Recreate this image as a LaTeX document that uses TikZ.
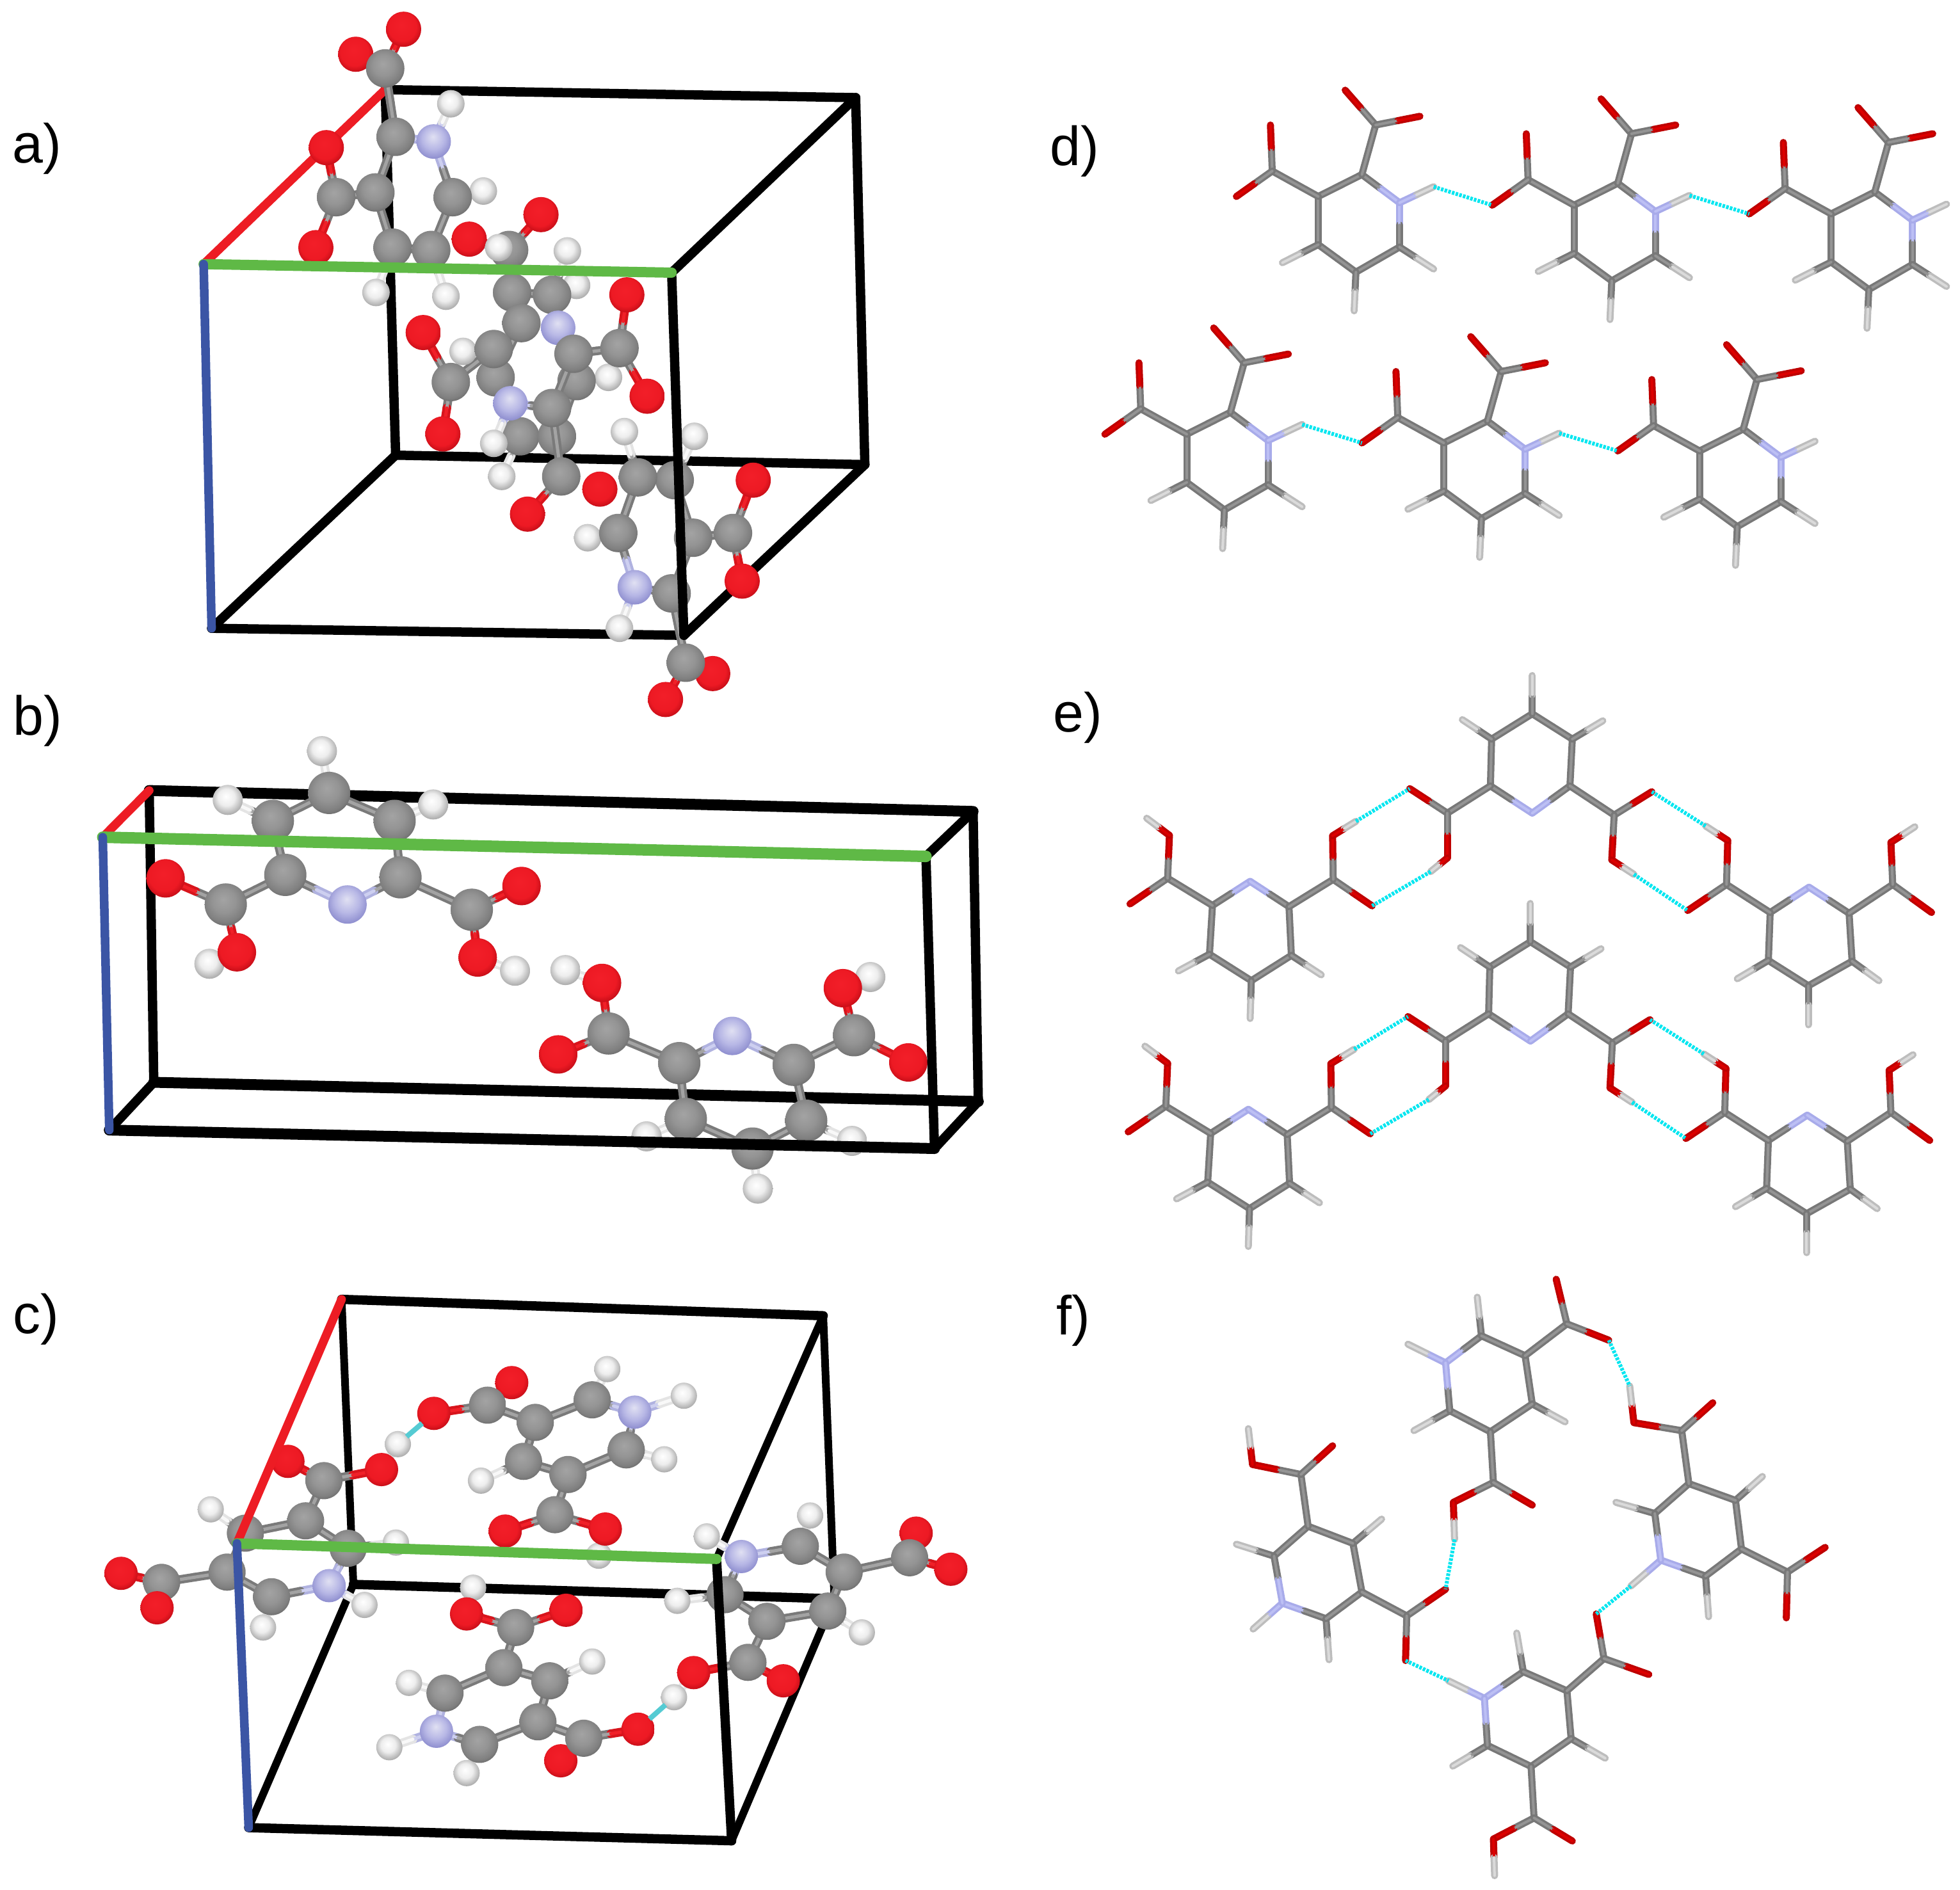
\documentclass[tikz,border=0pt]{standalone}
\usepackage{fontspec}
\setmainfont{Liberation Sans}
\usetikzlibrary{calc}
\pgfdeclareradialshading{ballC}{\pgfpoint{-3bp}{6bp}}{rgb(0bp)=(.64,.64,.64); rgb(14bp)=(.58,.58,.58); rgb(24bp)=(.50,.50,.50); rgb(34bp)=(.34,.34,.34); rgb(50bp)=(.34,.34,.34)}
\pgfdeclareradialshading{ballO}{\pgfpoint{-3bp}{6bp}}{rgb(0bp)=(.95,.12,.16); rgb(20bp)=(.93,.10,.14); rgb(32bp)=(.70,.03,.07); rgb(50bp)=(.70,.03,.07)}
\pgfdeclareradialshading{ballN}{\pgfpoint{-1bp}{7bp}}{rgb(0bp)=(.88,.88,.95); rgb(16bp)=(.72,.72,.90); rgb(32bp)=(.50,.50,.78); rgb(50bp)=(.50,.50,.78)}
\pgfdeclareradialshading{ballH}{\pgfpoint{-3bp}{6bp}}{rgb(0bp)=(1,1,1); rgb(14bp)=(.93,.93,.93); rgb(30bp)=(.62,.62,.62); rgb(50bp)=(.62,.62,.62)}
\definecolor{axred}{HTML}{ED1C24}
\definecolor{axgreen}{HTML}{5FB946}
\definecolor{axblue}{HTML}{3B55A5}
\definecolor{hbcol}{HTML}{00E6F0}
\definecolor{hbball}{HTML}{55CBD3}
\tikzset{
 celledge/.style={line width=0.145cm,black,line cap=round},
 axisred/.style={line width=0.135cm,axred,line cap=round},
 axisgreen/.style={line width=0.16cm,axgreen,line cap=round},
 axisblue/.style={line width=0.135cm,axblue,line cap=round},
 bondline/.style={line width=\bw,line cap=round},
 bondhi/.style={line width=\bhw,line cap=round},
 hbond/.style={line width=0.06cm,hbcol,dash pattern=on 0.04cm off 0.02cm},
 hbondball/.style={line width=0.08cm,hbball},
 panellabel/.style={anchor=base west,inner sep=0pt,font=\fontsize{24.5}{26}\selectfont}
}
\newcommand\stickcolours{%
 \colorlet{bC}{black!53}\colorlet{hC}{black!42}%
 \definecolor{bO}{HTML}{BE0000}\definecolor{hO}{HTML}{DC0000}%
 \definecolor{bN}{HTML}{A8ABEA}\definecolor{hN}{HTML}{BCBFF4}%
 \definecolor{bH}{HTML}{BDBDBD}\definecolor{hH}{HTML}{DADADA}%
 \def\bw{0.11cm}\def\bhw{0.04cm}}
\newcommand\ballcolours{%
 \colorlet{bC}{black!52}\colorlet{hC}{black!36}%
 \definecolor{bO}{HTML}{D8141C}\definecolor{hO}{HTML}{F02028}%
 \definecolor{bN}{HTML}{B0B2E0}\definecolor{hN}{HTML}{CDCFF0}%
 \definecolor{bH}{HTML}{E4E4E4}\definecolor{hH}{HTML}{F8F8F8}%
 \def\bw{0.135cm}\def\bhw{0.05cm}}
\newcommand\defatoms[2]{\foreach \n/\x/\y/\t in {#2}{%
  \coordinate (#1\n) at (\x,\y);%
  \expandafter\xdef\csname ty#1\n\endcsname{\t}}}
\newcommand\drawbonds[2]{\foreach \pa/\pb in {#2}{%
  \edef\ca{\csname ty#1\pa\endcsname}\edef\cb{\csname ty#1\pb\endcsname}%
  \coordinate (mid) at ($(#1\pa)!.5!(#1\pb)$);%
  \draw[bondline,color=b\ca] (#1\pa) -- (mid);%
  \draw[bondline,color=b\cb] (mid) -- (#1\pb);%
  \draw[bondhi,color=h\ca] (#1\pa) -- (mid);%
  \draw[bondhi,color=h\cb] (mid) -- (#1\pb);}}
\newcommand\molstick[3]{\defatoms{#1}{#2}\drawbonds{#1}{#3}}
\newcommand\molball[3]{\defatoms{#1}{#2}\drawbonds{#1}{#3}%
  \foreach \n/\x/\y/\t in {#2}{%
    \edef\myr{\csname rad\t\endcsname}%
    \shade[shading=ball\t] (#1\n) circle [radius=\myr];}}
\newcommand\dmol[1]{\molstick{#1}{C1/492/380/C,C2/565/317/C,N/628/398/N,C3/628/525/C,C4/555/597/C,C5/492/518/C,
 CA/415/307/C,OA/412/175/O,OB/355/380/O,CB/588/175/C,OC/537/75/O,OD/662/150/O,
 HN/685/352/H,H5/432/570/H,H3/685/588/H,H4/552/708/H}
 {C1/C2,C2/N,N/C3,C3/C4,C4/C5,C5/C1,C1/CA,CA/OA,CA/OB,C2/CB,CB/OC,CB/OD,N/HN,C5/H5,C3/H3,C4/H4}}
\newcommand\emolM[1]{\molstick{#1}{N/850/395/N,CL/780/325/C,CR/913/325/C,DL/782/205/C,DR/917/205/C,E/850/140/C,
 HE/850/42/H,HL/733/155/H,HR/968/158/H,AL/708/395/C,OL/645/332/O,PL/708/510/O,QL/680/545/H,
 AR/987/400/C,OR/1050/340/O,PR/983/515/O,QR/1020/552/H}
 {N/CL,N/CR,CL/DL,CR/DR,DL/E,DR/E,E/HE,DL/HL,DR/HR,CL/AL,AL/OL,AL/PL,PL/QL,CR/AR,AR/OR,AR/PR,PR/QR}}
\newcommand\emolL[1]{\molstick{#1}{N/378/570/N,CL/315/632/C,CR/443/635/C,DL/310/757/C,DR/447/760/C,E/380/825/C,
 HE/378/922/H,HL/258/800/H,HR/497/810/H,AL/240/562/C,OL/177/628/O,PL/243/452/O,QL/205/408/H,
 AR/517/565/C,OR/582/633/O,PR/516/453/O,QR/555/416/H}
 {N/CL,N/CR,CL/DL,CR/DR,DL/E,DR/E,E/HE,DL/HL,DR/HR,CL/AL,AL/OL,AL/PL,PL/QL,CR/AR,AR/OR,AR/PR,PR/QR}}
\newcommand\emolR[1]{\molstick{#1}{N/1313/585/N,CL/1248/650/C,CR/1380/652/C,DL/1245/773/C,DR/1385/775/C,E/1312/838/C,
 HE/1312/938/H,HL/1193/820/H,HR/1430/825/H,AL/1175/578/C,OL/1110/645/O,PL/1177/465/O,QL/1140/428/H,
 AR/1453/578/C,OR/1518/650/O,PR/1450/470/O,QR/1490/430/H}
 {N/CL,N/CR,CL/DL,CR/DR,DL/E,DR/E,E/HE,DL/HL,DR/HR,CL/AL,AL/OL,AL/PL,PL/QL,CR/AR,AR/OR,AR/PR,PR/QR}}
\begin{document}
\begin{tikzpicture}
\useasboundingbox (0cm,0cm) rectangle (30.62cm,-29.52cm);
\fill[white] (0cm,0cm) rectangle (30.62cm,-29.52cm);
\node[panellabel] (labA) at (0.19cm,-2.54cm) {a)};
\node[panellabel] (labB) at (0.20cm,-11.48cm) {b)};
\node[panellabel] (labC) at (0.20cm,-20.83cm) {c)};
\node[panellabel] (labD) at (16.40cm,-2.58cm) {d)};
\node[panellabel] (labE) at (16.45cm,-11.43cm) {e)};
\node[panellabel] (labF) at (16.50cm,-20.85cm) {f)};

%%%%%%%%%%%% panel a
\begin{scope}[x=0.00958cm,y=-0.00737cm]
\ballcolours
\def\radC{0.30cm}\def\radO{0.275cm}\def\radN{0.27cm}\def\radH{0.215cm}
\coordinate (aO) at (332,560);\coordinate (aR) at (628,190);\coordinate (aG) at (1095,578);\coordinate (aB) at (345,1332);
\coordinate (aRG) at (1395,207);\coordinate (aRB) at (645,965);\coordinate (aRGB) at (1410,985);\coordinate (aGB) at (1115,1347);
\draw[celledge] (aR) -- (aRG);
\draw[celledge] (aRG) -- (aG);
\draw[celledge] (aRG) -- (aRGB);
\draw[celledge] (aR) -- (aRB);
\draw[celledge] (aRB) -- (aRGB);
\draw[celledge] (aRB) -- (aB);
\draw[celledge] (aGB) -- (aRGB);
\draw[celledge] (aB) -- (aGB);
\draw[axisred] (aO) -- (aR);
\molball{p}{O1/580/115/O,O2/658/62/O,C1/628/145/C,H1/735/220/H,N/707/300/N,C2/645/290/C,H2/788/405/H,C4/738/418/C,O4/515/525/O,C5/548/418/C,O3/532/313/O,C3/612/408/C,H3/613/620/H,H4/727/628/H,C7/703/530/C,C6/640/525/C}
 {C1/O1,C1/O2,C1/C2,C2/N,N/H1,N/C4,C2/C3,C3/C5,C5/O3,C5/O4,C3/C6,C4/C7,C6/C7,C4/H2,C6/H3,C7/H4}
\molball{q}{O1/765/507/O,O2/882/455/O,C1/830/530/C,H1/925/532/H,H2/940/605/H,C2/835/620/C,C3/900/625/C,C4/850/685/C,N/910/695/N,H3/992/800/H,C5/808/800/C,C6/940/808/C,C7/848/925/C,C8/908/925/C,H4/818/1010/H,O3/978/1037/O,H5/813/525/H}
 {C1/O1,C1/O2,C1/C2,C2/C3,C2/C4,C3/N,C3/H1,C3/H2,C4/C5,C6/H3,C5/C7,C6/C8,C7/C8,C7/H4}
\molball{s}{O1/690/705/O,O2/722/920/O,C1/735/810/C,H1/755/745/H,C2/805/740/C,H2/805/940/H,N/832/855/N,C4/935/750/C,C5/1010/738/C,O3/1022/625/O,O4/1055/840/O,C3/900/865/C,O5/860/1090/O,C6/915/1010/C}
 {C1/O1,C1/O2,C1/C2,C2/H1,N/H2,N/C3,C3/C4,C4/C5,C5/O3,C5/O4,C3/C6,C6/O5}
\molball{t}{H1/1018/915/H,H2/1132/925/H,O1/1228/1018/O,O2/1210/1232/O,C6/1195/1130/C,C2/1100/1018/C,C1/1040/1012/C,H3/958/1140/H,C3/1008/1130/C,C5/1130/1140/C,H4/1010/1332/H,C4/1095/1258/C,N/1035/1245/N,O3/1162/1428/O,C7/1118/1405/C,O4/1085/1483/O}
 {C1/H1,C2/H2,C1/C2,C1/C3,C3/H3,C3/N,N/H4,N/C4,C4/C5,C2/C5,C5/C6,C6/O1,C6/O2,C4/C7,C7/O3,C7/O4}
\draw[celledge] (aG) -- (aGB);
\draw[axisgreen] (aO) -- (aG);
\draw[axisblue] (aO) -- (aB);
\end{scope}

%%%%%%%%%%%% panel b
\begin{scope}[x=0.010217cm,y=-0.00545cm,shift={(0cm,-11cm)}]
\ballcolours
\def\radC{0.33cm}\def\radO{0.30cm}\def\radN{0.30cm}\def\radH{0.235cm}
\coordinate (bO) at (157,382);\coordinate (bR) at (228,248);\coordinate (bG) at (1415,437);\coordinate (bB) at (167,1222);
\coordinate (bRG) at (1487,308);\coordinate (bRB) at (235,1085);\coordinate (bRGB) at (1495,1140);\coordinate (bGB) at (1428,1275);
\draw[celledge,line width=0.17cm] (bR) -- (bRG);
\draw[celledge] (bRG) -- (bG);
\draw[celledge] (bRG) -- (bRGB);
\draw[celledge] (bR) -- (bRB);
\draw[celledge,line width=0.17cm] (bRB) -- (bRGB);
\draw[celledge] (bRB) -- (bB);
\draw[celledge] (bRGB) -- (bGB);
\draw[axisred] (bO) -- (bR);
\molball{u}{H1/492/135/H,H2/348/275/H,H3/662/288/H,C1/503/255/C,C2/417/335/C,C3/603/335/C,C4/436/490/C,C5/612/497/C,O1/253/500/O,H4/320/745/H,O2/362/712/O,C6/345/575/C,N/531/575/N,O3/797/522/O,H5/787/765/H,O4/730/727/O,C7/721/590/C}
 {C1/H1,C1/C2,C1/C3,C2/H2,C3/H3,C2/C4,C3/C5,C4/N,C5/N,C4/C6,C6/O1,C6/O2,O2/H4,C5/C7,C7/O3,C7/O4,O4/H5}
\molball{v}{H1/864/763/H,O1/920/800/O,O2/853/1005/O,C1/930/945/C,H2/1330/783/H,O3/1288/815/O,O4/1388/1028/O,C2/1305/950/C,N/1119/952/N,C3/1038/1030/C,C4/1213/1035/C,H3/988/1240/H,H4/1302/1253/H,H5/1158/1390/H,C7/1150/1275/C,C5/1048/1190/C,C6/1232/1195/C}
 {C1/O1,O1/H1,C1/O2,C1/C3,C3/N,N/C4,C4/C2,C2/O3,O3/H2,C2/O4,C3/C5,C4/C6,C5/C7,C6/C7,C7/H5,C5/H3,C6/H4}
\draw[celledge] (bG) -- (bGB);
\draw[celledge,line width=0.17cm] (bB) -- (bGB);
\draw[axisgreen,line width=0.18cm] (bO) -- (bG);
\draw[axisblue] (bO) -- (bB);
\end{scope}

%%%%%%%%%%%% panel c
\begin{scope}[x=0.010217cm,y=-0.00641cm,shift={(0cm,-19.5cm)}]
\ballcolours
\def\radC{0.29cm}\def\radO{0.26cm}\def\radN{0.26cm}\def\radH{0.205cm}
\coordinate (cO) at (362,720);\coordinate (cR) at (522,125);\coordinate (cG) at (1095,758);\coordinate (cB) at (380,1413);
\coordinate (cRG) at (1258,165);\coordinate (cRB) at (540,820);\coordinate (cRGB) at (1275,855);\coordinate (cGB) at (1118,1445);
\draw[celledge] (cR) -- (cRG);
\draw[celledge,line width=0.12cm] (cRG) -- (cG);
\draw[celledge,line width=0.12cm] (cRG) -- (cRGB);
\draw[celledge,line width=0.12cm] (cR) -- (cRB);
\draw[celledge] (cRB) -- (cRGB);
\draw[celledge,line width=0.12cm] (cRB) -- (cB);
\draw[celledge,line width=0.12cm] (cRGB) -- (cGB);
\draw[celledge] (cB) -- (cGB);
\molball{w}{O1/782/328/O,C1/745/383/C,O2/663/403/O,H1/928/295/H,C2/905/370/C,H2/1045/360/H,N/970/400/N,C3/818/425/C,H3/735/567/H,C4/800/520/C,H4/1015/515/H,C5/957/492/C,C6/868/552/C,H5/915/750/H,O3/772/690/O,O4/925/685/O,C7/848/650/C}
 {C1/O1,C1/O2,C1/C3,C3/C2,C2/H1,C2/N,N/H2,N/C5,C5/H4,C5/C6,C3/C4,C4/H3,C4/C6,C6/C7,C7/O3,C7/O4,O4/H5}
\molball{x}{O1/440/520/O,H1/608/478/H,O2/583/540/O,C1/495/567/C,C2/467/665/C,H2/322/637/H,C3/375/695/C,H3/605/718/H,C4/532/732/C,O3/185/793/O,C5/247/815/C,O4/240/877/O,C6/347/790/C,H4/402/925/H,C7/415/850/C,H5/557/870/H,N/503/823/N}
 {C1/O1,C1/O2,O2/H1,C1/C2,C2/C3,C2/C4,C3/H2,C4/H3,C3/C6,C4/N,N/H5,N/C7,C7/H4,C7/C6,C6/C5,C5/O3,C5/O4}
\draw[hbondball,shorten <=0.24cm,shorten >=0.18cm] (wO2) -- (xH1);
\molball{y}{H1/723/828/H,O1/713/892/O,O2/865/883/O,C1/788/925/C,H2/905/1008/H,C2/840/1055/C,C3/770/1023/C,H3/625/1060/H,C4/680/1085/C,H4/595/1217/H,N/667/1178/N,H5/713/1280/H,C5/733/1210/C,C6/822/1155/C,O3/857/1250/O,C7/892/1195/C,O4/975/1173/O}
 {C1/O1,O1/H1,C1/O2,C1/C3,C3/C2,C2/H2,C3/C4,C4/H3,C4/N,N/H4,N/C5,C5/H5,C5/C6,C2/C6,C6/C7,C7/O3,C7/O4}
\molball{z}{H1/1080/703/H,H2/1238/652/H,N/1133/752/N,C1/1223/727/C,O1/1400/695/O,O2/1453/783/O,C3/1390/755/C,C2/1290/790/C,H3/1035/860/H,C4/1108/845/C,H4/1317/937/H,C6/1265/885/C,C5/1172/910/C,H5/1030/1095/H,O3/1060/1035/O,C7/1143/1010/C,O4/1197/1055/O}
 {N/H1,N/C1,C1/H2,C1/C2,C2/C3,C3/O1,C3/O2,N/C4,C4/H3,C4/C5,C5/C6,C6/C2,C6/H4,C5/C7,C7/O3,O3/H5,C7/O4}
\draw[hbondball,shorten <=0.24cm,shorten >=0.18cm] (yO4) -- (zH5);
\draw[celledge] (cG) -- (cGB);
\draw[axisred] (cO) -- (cR);
\draw[axisgreen] (cO) -- (cG);
\draw[axisblue] (cO) -- (cB);
\end{scope}

%%%%%%%%%%%% panel d
\begin{scope}[x=0.009336cm,y=-0.00545cm,shift={(16cm,-1cm)}]
\stickcolours
\dmol{d1}
\begin{scope}[shift={(428,25)}]\dmol{d2}\end{scope}
\begin{scope}[shift={(858,50)}]\dmol{d3}\end{scope}
\begin{scope}[shift={(-220,682)}]\dmol{d4}\end{scope}
\begin{scope}[shift={(210,707)}]\dmol{d5}\end{scope}
\begin{scope}[shift={(638,730)}]\dmol{d6}\end{scope}
\draw[hbond] (d1HN) -- (d2OB);
\draw[hbond] (d2HN) -- (d3OB);
\draw[hbond] (d4HN) -- (d5OB);
\draw[hbond] (d5HN) -- (d6OB);
\end{scope}

%%%%%%%%%%%% panel e
\begin{scope}[x=0.009336cm,y=-0.00609cm,shift={(16cm,-10.3cm)}]
\stickcolours
\emolM{e1}\emolL{e2}\emolR{e3}
\begin{scope}[shift={(-3,585)}]\emolM{e4}\emolL{e5}\emolR{e6}\end{scope}
\draw[hbond] (e2QR) -- (e1OL);
\draw[hbond] (e1QL) -- (e2OR);
\draw[hbond] (e1OR) -- (e3QL);
\draw[hbond] (e1QR) -- (e3OL);
\draw[hbond] (e5QR) -- (e4OL);
\draw[hbond] (e4QL) -- (e5OR);
\draw[hbond] (e4OR) -- (e6QL);
\draw[hbond] (e4QR) -- (e6OL);
\end{scope}

%%%%%%%%%%%% panel f
\begin{scope}[x=0.009336cm,y=-0.00623cm,shift={(16cm,-19.8cm)}]
\stickcolours
\molstick{fa}{N/705/240/N,HN/642/193/H,C1/765/172/C,H1/758/75/H,C2/838/222/C,C3/850/343/C,H3/905/388/H,C4/780/413/C,C5/712/360/C,H5/652/410/H,
 A/908/142/C,O1/890/30/O,O2/978/183/O,B/785/540/C,O3/718/590/O,H6/720/683/H,O4/850/597/O}
 {N/HN,N/C1,C1/H1,C1/C2,C2/C3,C3/H3,C3/C4,C4/C5,C5/H5,C5/N,C2/A,A/O1,A/O2,C4/B,B/O3,O3/H6,B/O4}
\molstick{fb}{N/432/843/N,HN/383/908/H,C1/505/882/C,H1/510/985/H,C2/565/815/C,C3/550/693/C,H3/598/632/H,C4/475/650/C,C5/418/725/C,H5/355/695/H,
 A/640/875/C,O1/705/808/O,O2/638/987/O,B/463/520/C,O3/382/495/O,H6/375/405/H,O4/516/448/O}
 {N/HN,N/C1,C1/H1,C1/C2,C2/C3,C3/H3,C3/C4,C4/C5,C5/H5,C5/N,C2/A,A/O1,A/O2,C4/B,B/O3,O3/H6,B/O4}
\molstick{fc}{N/770/1082/N,HN/710/1038/H,C1/835/1015/C,H1/824/918/H,C2/908/1063/C,C3/915/1183/C,H3/972/1232/H,C4/848/1253/C,C5/775/1200/C,H5/717/1252/H,
 A/970/982/C,O1/957/870/O,O2/1045/1022/O,B/853/1382/C,O3/785/1435/O,H6/787/1527/H,O4/917/1440/O}
 {N/HN,N/C1,C1/H1,C1/C2,C2/C3,C3/H3,C3/C4,C4/C5,C5/H5,C5/N,C2/A,A/O1,A/O2,C4/B,B/O3,O3/H6,B/O4}
\molstick{fd}{N/1065/735/N,HN/1015/800/H,C1/1140/775/C,H1/1145/877/H,C2/1200/707/C,C3/1190/585/C,H3/1235/525/H,C4/1112/543/C,C5/1055/618/C,H5/990/590/H,
 A/1277/765/C,O1/1340/703/O,O2/1275/880/O,B/1100/410/C,O3/1020/390/O,H6/1013/298/H,O4/1152/340/O}
 {N/HN,N/C1,C1/H1,C1/C2,C2/C3,C3/H3,C3/C4,C4/C5,C5/H5,C5/N,C2/A,A/O1,A/O2,C4/B,B/O3,O3/H6,B/O4}
\draw[hbond] (faO2) -- (fdH6);
\draw[hbond] (faH6) -- (fbO1);
\draw[hbond] (fbO2) -- (fcHN);
\draw[hbond] (fcO1) -- (fdHN);
\end{scope}
\end{tikzpicture}
\end{document}
